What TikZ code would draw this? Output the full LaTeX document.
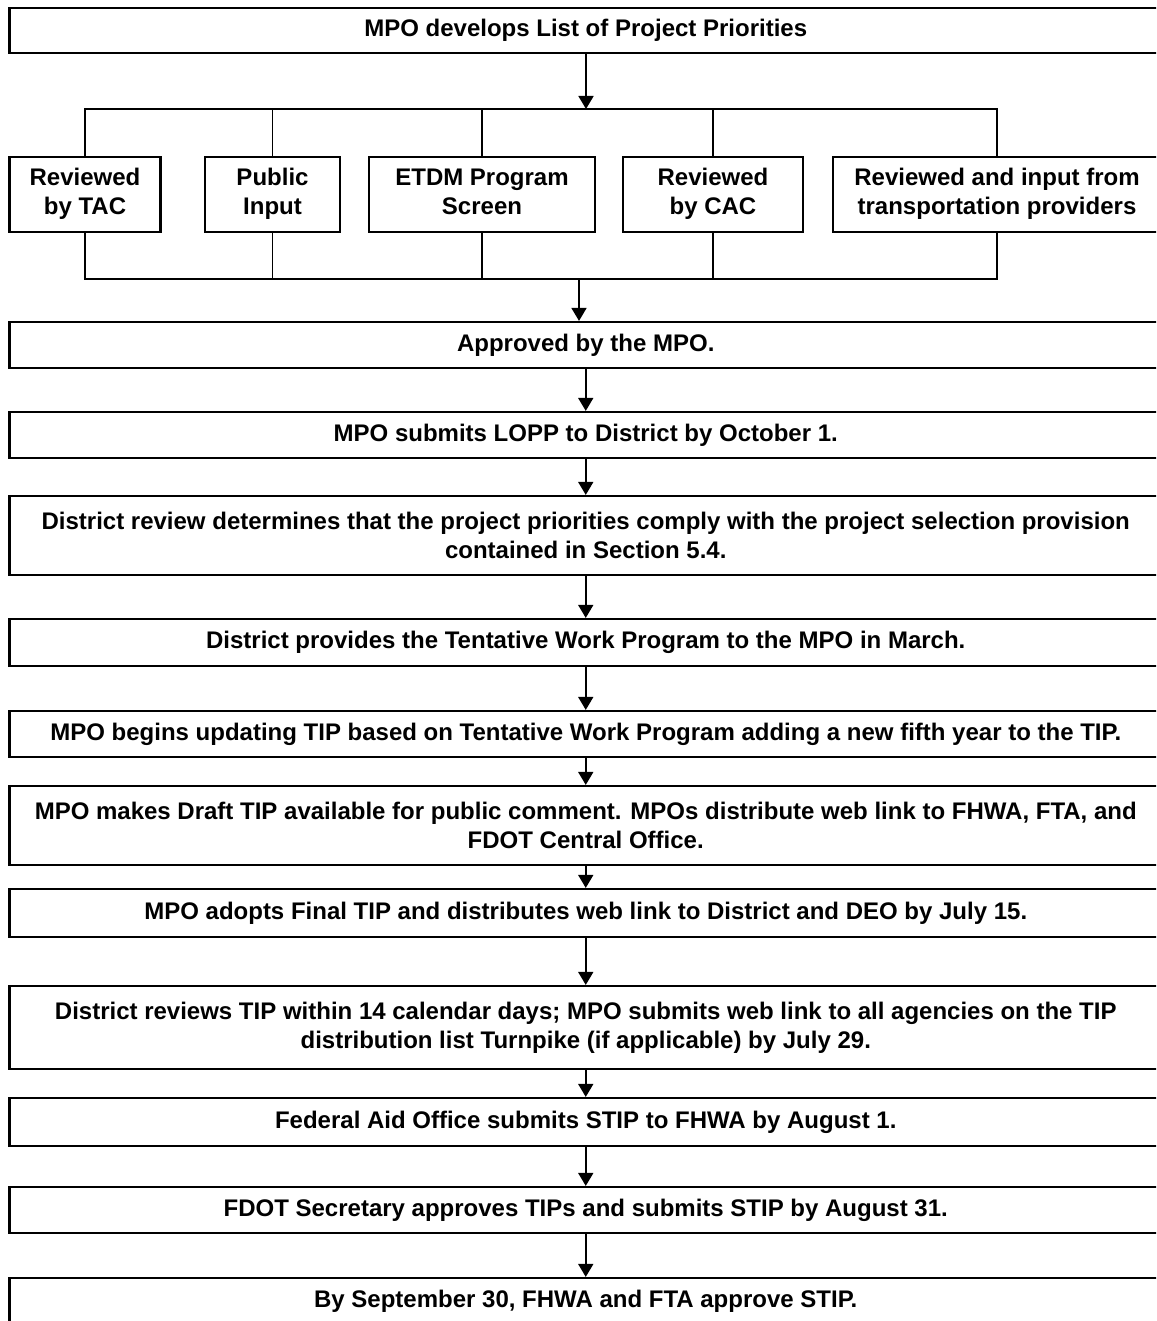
\documentclass[tikz,border=0pt]{standalone}
\usepackage{fontspec}
\setmainfont{Liberation Sans}
\usetikzlibrary{arrows.meta}
\tikzset{
  every node/.style={font=\bfseries\fontsize{24}{28.8}\selectfont},
  mainbox/.style={draw, line width=2.2pt, minimum width=1152.5pt, inner sep=0pt, align=center},
  smallbox/.style={draw, line width=2.2pt, minimum height=75pt, inner sep=0pt, align=center},
  conn/.style={line width=1.8pt},
  arr/.style={line width=1.8pt, -{Triangle[length=13pt,width=15pt]}},
}
\begin{document}
\begin{tikzpicture}[x=1pt,y=-1pt]
\useasboundingbox (0,0) rectangle (1156,1321);
\clip (0,0) rectangle (1156,1321);
% main boxes
\node[mainbox, minimum height=45pt] (top) at (585.75,30.5) {MPO develops List of Project Priorities};
% small boxes
\node[smallbox, minimum width=151pt] (tac) at (85,194.5) {Reviewed\strut\\by TAC\strut};
\node[smallbox, minimum width=135pt] (pub) at (272.5,194.5) {Public\strut\\Input\strut};
\node[smallbox, minimum width=226pt] (etdm) at (482,194.5) {ETDM Program\strut\\Screen\strut};
\node[smallbox, minimum width=180pt] (cac) at (713,194.5) {Reviewed\strut\\by CAC\strut};
\node[smallbox, minimum width=328pt] (tp) at (997,194.5) {Reviewed and input from\strut\\transportation providers\strut};
\node[mainbox, minimum height=46pt] (appr) at (585.75,345) {Approved by the MPO.};
\node[mainbox, minimum height=46pt] (lopp) at (585.75,435) {MPO submits LOPP to District by October 1.};
\node[mainbox, minimum height=79pt] (drev) at (585.75,535.5) {District review determines that the project priorities comply with the project selection provision\\contained in Section 5.4.};
\node[mainbox, minimum height=47pt] (dprov) at (585.75,642.5) {District provides the Tentative Work Program to the MPO in March.};
\node[mainbox, minimum height=46pt] (upd) at (585.75,734) {MPO begins updating TIP based on Tentative Work Program adding a new fifth year to the TIP.};
\node[mainbox, minimum height=79pt] (draft) at (585.75,825.5) {MPO makes Draft TIP available for public comment. MPOs distribute web link to FHWA, FTA, and\\FDOT Central Office.};
\node[mainbox, minimum height=48pt] (adopt) at (585.75,913) {MPO adopts Final TIP and distributes web link to District and DEO by July 15.};
\node[mainbox, minimum height=83pt] (dtip) at (585.75,1027.5) {District reviews TIP within 14 calendar days; MPO submits web link to all agencies on the TIP\\distribution list Turnpike (if applicable) by July 29.};
\node[mainbox, minimum height=48pt] (fed) at (585.75,1122) {Federal Aid Office submits STIP to FHWA by August 1.};
\node[mainbox, minimum height=46pt] (fdot) at (585.75,1210) {FDOT Secretary approves TIPs and submits STIP by August 31.};
\node[mainbox, minimum height=46pt] (sept) at (585.75,1301) {By September 30, FHWA and FTA approve STIP.};
% bus coordinates
\coordinate (b1) at (586,109);
\coordinate (b2) at (579,279);
% top to bus
\draw[arr] (top.south -| b1) -- (b1);
\draw[conn] (tac.north) |- (b1) -| (tp.north);
\draw[conn] (pub.north) -- (pub.north |- b1);
\draw[conn] (etdm.north) -- (etdm.north |- b1);
\draw[conn] (cac.north) -- (cac.north |- b1);
% bottom bus
\draw[conn] (tac.south) |- (b2) -| (tp.south);
\draw[conn] (pub.south) -- (pub.south |- b2);
\draw[conn] (etdm.south) -- (etdm.south |- b2);
\draw[conn] (cac.south) -- (cac.south |- b2);
\draw[arr] (b2) -- (b2 |- appr.north);
% main chain
\draw[arr] (appr.south) -- (lopp.north);
\draw[arr] (lopp.south) -- (drev.north);
\draw[arr] (drev.south) -- (dprov.north);
\draw[arr] (dprov.south) -- (upd.north);
\draw[arr] (upd.south) -- (draft.north);
\draw[arr] (draft.south) -- (adopt.north);
\draw[arr] (adopt.south) -- (dtip.north);
\draw[arr] (dtip.south) -- (fed.north);
\draw[arr] (fed.south) -- (fdot.north);
\draw[arr] (fdot.south) -- (sept.north);
\end{tikzpicture}
\end{document}
